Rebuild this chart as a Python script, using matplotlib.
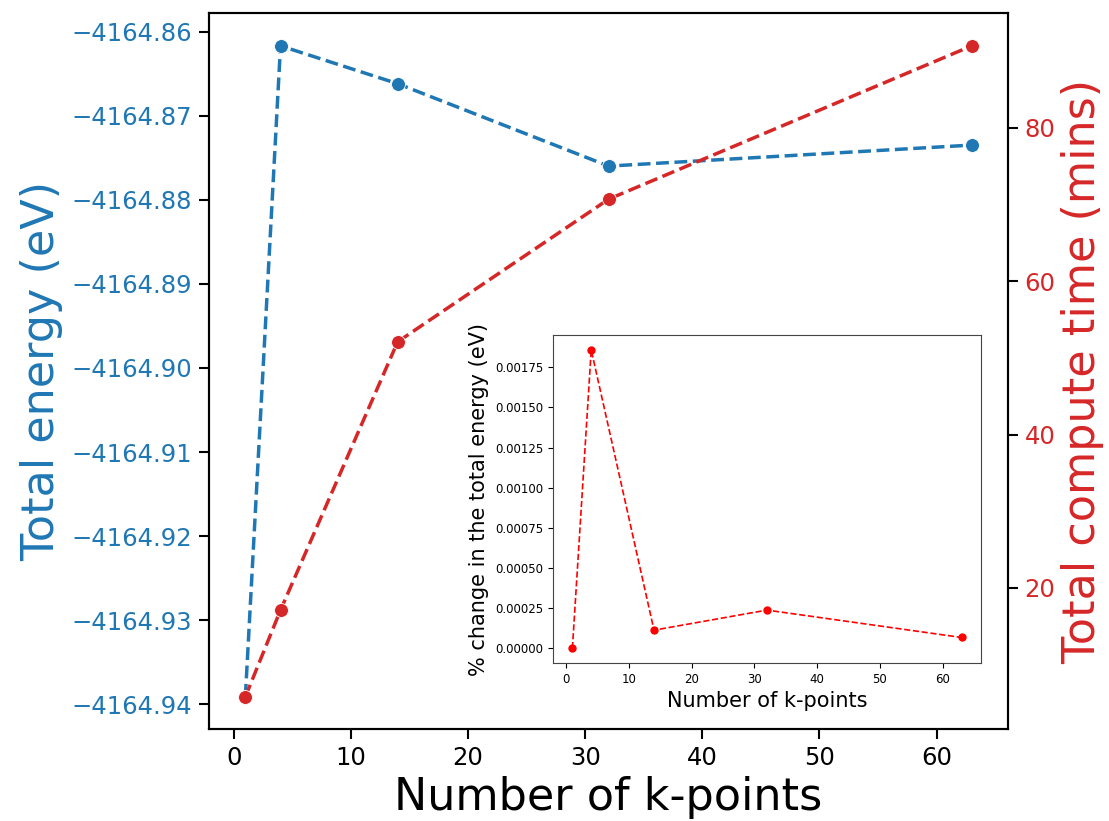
import matplotlib
matplotlib.use("Agg")
import matplotlib.pyplot as plt

# k-point convergence data
kpoints = [1, 4, 14, 32, 63]
total_energy = [-4164.9391, -4164.8617, -4164.8662, -4164.8760, -4164.8735]
compute_time = [5.8, 17.1, 52.1, 70.7, 90.7]
pct_change = [0.0, 0.001858, 0.000112, 0.000237, 0.0000664]

blue = '#1f77b4'
red = '#d62728'

fig = plt.figure(figsize=(11.09, 8.21), dpi=100)
ax = fig.add_axes([0.1885, 0.1117, 0.7205, 0.8721])

ax.plot(kpoints, total_energy, '--o', color=blue, lw=2.5, ms=10,
        mec='white', mew=0.6)
ax.set_xlabel('Number of k-points', fontsize=32)
ax.set_ylabel('Total energy (eV)', fontsize=32, color=blue, labelpad=6)
ax.tick_params(axis='y', labelcolor=blue, labelsize=17.5, length=7, width=1.5, pad=5)
ax.tick_params(axis='x', labelsize=17.5, length=7, width=1.5, pad=5)
ax.ticklabel_format(axis='y', useOffset=False)

ax2 = ax.twinx()
ax2.plot(kpoints, compute_time, '--o', color=red, lw=2.5, ms=10,
         mec='white', mew=0.6)
ax2.set_ylabel('Total compute time (mins)', fontsize=32, color=red)
ax2.tick_params(axis='y', labelcolor=red, labelsize=17.5, length=7, width=1.5, pad=5)

for a in (ax, ax2):
    for s in a.spines.values():
        s.set_linewidth(1.5)

# inset: relative change of energy
axin = fig.add_axes([0.4986, 0.1924, 0.386, 0.3995])
axin.plot(kpoints, pct_change, 'r--o', lw=1.2, ms=5)
axin.set_xlabel('Number of k-points', fontsize=15)
axin.set_ylabel('% change in the total energy (eV)', fontsize=15)
axin.tick_params(labelsize=8.5)
for s in axin.spines.values():
    s.set_color('#444444')

fig.savefig('out.png', dpi=100)
